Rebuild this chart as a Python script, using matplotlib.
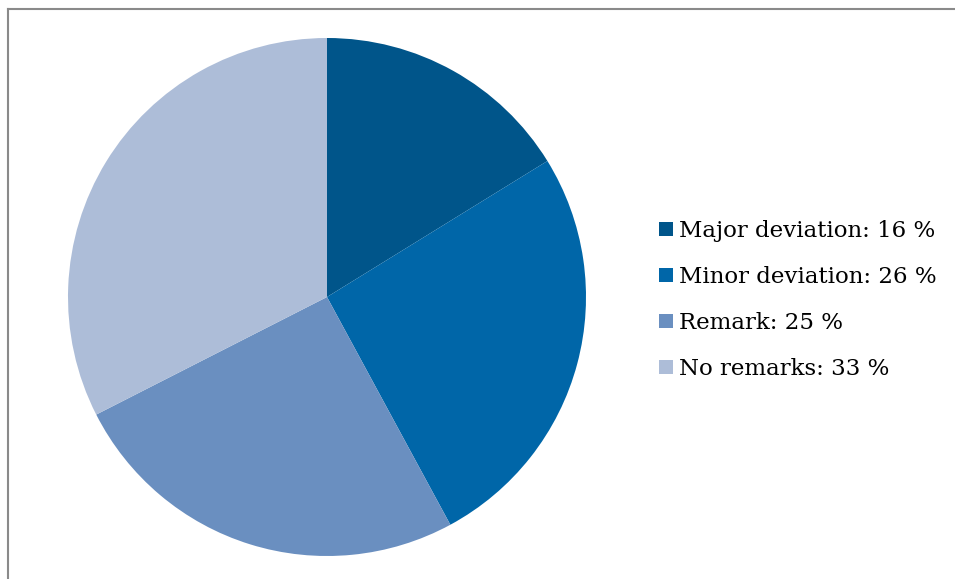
import matplotlib.pyplot as plt
from matplotlib.lines import Line2D

labels = ["Major deviation", "Minor deviation", "Remark", "No remarks"]
pct_labels = [16, 26, 25, 33]
shares = [16.2, 25.9, 25.4, 32.5]
colors = ["#00558A", "#0066A8", "#6A8FC0", "#ADBDD8"]

W, H = 955, 579
fig = plt.figure(figsize=(W / 100, H / 100), dpi=100)

# pie centre ~ (327, 297) px, radius ~ 259 px
cx, cy, r = 327, 297, 259
ax = fig.add_axes([(cx - r) / W, (H - cy - r) / H, 2 * r / W, 2 * r / H])
wedges, _ = ax.pie(shares, colors=colors, startangle=90, counterclock=False,
                   radius=1, wedgeprops=dict(linewidth=0))
ax.set_xlim(-1, 1)
ax.set_ylim(-1, 1)
ax.set_aspect("equal")
ax.axis("off")

leg_labels = [f"{l}: {v} %" for l, v in zip(labels, pct_labels)]
fig.legend(wedges, leg_labels, loc="upper left",
           bbox_to_anchor=(659 / W, 1 - 220 / H),
           frameon=False, prop={"family": "DejaVu Serif", "size": 16.5},
           handlelength=0.6, handleheight=0.6, handletextpad=0.26,
           labelspacing=1.05, borderpad=0, borderaxespad=0)

# frame lines (top and left)
grey = "#8a8a8a"
fig.add_artist(Line2D([7.5 / W, 1], [1 - 9 / H, 1 - 9 / H], color=grey, lw=1.5))
fig.add_artist(Line2D([7.5 / W, 7.5 / W], [0, 1 - 9 / H], color=grey, lw=1.5))

plt.savefig("out.png", dpi=100)
